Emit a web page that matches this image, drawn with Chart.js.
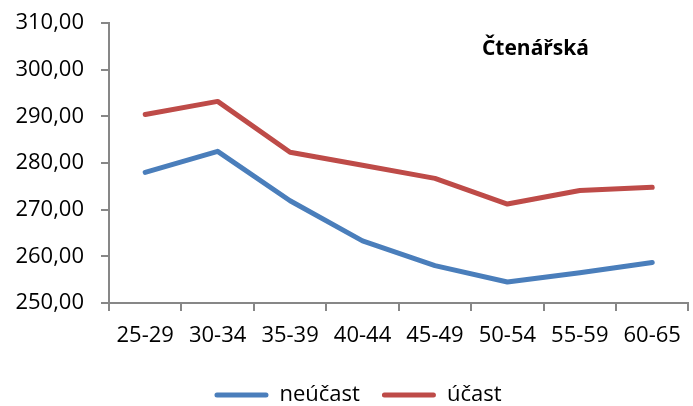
<!DOCTYPE html>
<html>
<head>
<meta charset="utf-8">
<script src="https://cdn.jsdelivr.net/npm/chart.js@4/dist/chart.umd.min.js"></script>
<style>
  html, body { margin: 0; padding: 0; background: #fff; }
  #wrap { width: 693px; height: 406px; position: relative; }
</style>
</head>
<body>
<div id="wrap"><canvas id="graf"></canvas></div>
<script>
// data
const kategorie = ['25-29', '30-34', '35-39', '40-44', '45-49', '50-54', '55-59', '60-65'];
const neucast = [278.0, 282.5, 271.9, 263.3, 258.0, 254.5, 256.5, 258.7];
const ucast = [290.4, 293.2, 282.3, 279.5, 276.7, 271.2, 274.1, 274.8];
const nazev = 'Čtenářská';

const modra = '#4A7EBB';
const cervena = '#BE4B48';
const osa = '#878787';
const pismo = "'Open Sans', sans-serif";

// nadpis uvnitr grafu + posun legendy doprava
const nadpisPlugin = {
    id: 'nadpis',
    afterLayout(chart) {
        if (chart.legend) {
            chart.legend.left += 12;
            chart.legend.right += 12;
        }
    },
    afterDraw(chart) {
        const ctx = chart.ctx;
        const a = chart.chartArea;
        ctx.save();
        ctx.font = "bold 21px " + pismo;
        ctx.fillStyle = '#000';
        ctx.textAlign = 'center';
        ctx.textBaseline = 'alphabetic';
        ctx.fillText(nazev, a.left + (a.right - a.left) * 0.736, 55);
        ctx.restore();
    }
};

new Chart(document.getElementById('graf'), {
    type: 'line',
    data: {
        labels: kategorie,
        datasets: [
            { label: 'neúčast', data: neucast, borderColor: modra, backgroundColor: modra,
              borderWidth: 5, pointRadius: 0, tension: 0, borderJoinStyle: 'round', borderCapStyle: 'round' },
            { label: 'účast', data: ucast, borderColor: cervena, backgroundColor: cervena,
              borderWidth: 5, pointRadius: 0, tension: 0, borderJoinStyle: 'round', borderCapStyle: 'round' }
        ]
    },
    options: {
        responsive: true,
        maintainAspectRatio: false,
        animation: false,
        layout: { padding: { top: 0, right: 1, left: 0, bottom: -10 } },
        plugins: {
            tooltip: { enabled: false },
            legend: {
                position: 'bottom',
                labels: {
                    font: { family: pismo, size: 22 },
                    color: '#000',
                    boxWidth: 54,
                    boxHeight: 5,
                    padding: 22,
                    generateLabels(chart) {
                        return chart.data.datasets.map((d, i) => ({
                            text: d.label,
                            fillStyle: d.borderColor,
                            strokeStyle: d.borderColor,
                            lineWidth: 0,
                            borderRadius: 2.5,
                            datasetIndex: i
                        }));
                    }
                }
            }
        },
        scales: {
            x: {
                offset: true,
                grid: { offset: true, drawOnChartArea: false, color: osa, tickLength: 8, lineWidth: 2 },
                border: { color: osa, width: 2 },
                ticks: { font: { family: pismo, size: 22 }, color: '#000', padding: 12, maxRotation: 0 },
                afterFit(scale) { scale.height = 59; }
            },
            y: {
                min: 250,
                max: 310,
                grid: { drawOnChartArea: false, color: osa, tickLength: 8, lineWidth: 2 },
                border: { color: osa, width: 2 },
                ticks: {
                    stepSize: 10,
                    font: { family: pismo, size: 22 },
                    color: '#000',
                    padding: 17,
                    callback: v => v.toFixed(2).replace('.', ',')
                },
                afterFit(scale) {
                    scale.width = 109;
                    scale.paddingTop = 23;
                    scale.paddingBottom = 10;
                }
            }
        }
    },
    plugins: [nadpisPlugin]
});
</script>
</body>
</html>
